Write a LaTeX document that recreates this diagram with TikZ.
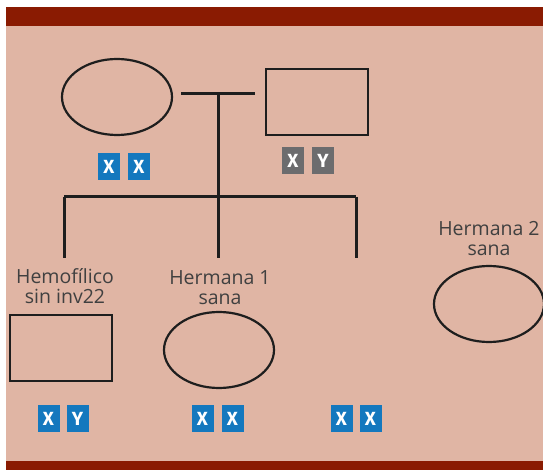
\documentclass[tikz,border=0pt]{standalone}
\usepackage{fontspec}
\setmainfont{Open Sans}
\newfontfamily\badgefont{Fira Sans}
\definecolor{band}{HTML}{8A1B02}
\definecolor{panel}{HTML}{E0B5A4}
\definecolor{chromblue}{HTML}{1478BE}
\definecolor{chromgray}{HTML}{6C6C6E}
\definecolor{ink}{HTML}{1E1E1E}
\usetikzlibrary{shapes.geometric}
\begin{document}
\begin{tikzpicture}[x=1pt,y=-1pt,
  line/.style={ink,line width=3pt},
  female/.style={draw=ink,line width=2.2pt,ellipse,minimum width=110pt,minimum height=76pt,inner sep=0pt},
  male/.style={draw=ink,line width=2.2pt,rectangle,minimum width=102pt,minimum height=66pt,inner sep=0pt},
  chrom/.style={fill=#1,text=white,minimum width=22pt,minimum height=27pt,inner sep=0pt,font=\badgefont\bfseries\fontsize{19}{19}\selectfont},
  lbl/.style={align=center,text=ink!85,font=\fontsize{19.5}{20}\selectfont,inner sep=0pt}]
\useasboundingbox (0,0) rectangle (543,470);
\fill[white] (0,0) rectangle (543,470);
\fill[panel] (6,26) rectangle (543,461);
\fill[band] (6,7) rectangle (543,26);
\fill[band] (6,461) rectangle (543,470);

% parents
\node[female] (mother) at (117,97) {};
\node[male] (father) at (317,102) {};
\coordinate (mleft) at (181,93.5);
\coordinate (mright) at (255,93.5);
\coordinate (mmid) at (218,93.5);
\coordinate (sib) at (218,197);
\draw[line] (mleft) -- (mright);
\draw[line] (mmid) -- (sib);

% sibship line and drops
\coordinate (sibl) at (64,197);
\coordinate (sibr) at (356,197);
\coordinate (dropl) at (64,258);
\coordinate (dropm) at (218,258);
\coordinate (dropr) at (356,258);
\draw[line] (sibl) -- (sibr);
\draw[line] (sibl) -- (dropl);
\draw[line] (sib) -- (dropm);
\draw[line] (sibr) -- (dropr);

% parent chromosomes
\node[chrom=chromblue] (mx1) at (109,166.5) {X};
\node[chrom=chromblue] (mx2) at (139,166.5) {X};
\node[chrom=chromgray] (fx) at (293,160.5) {X};
\node[chrom=chromgray] (fy) at (323,160.5) {Y};

% children (anchor base sits on the second line)
\node[lbl,anchor=base] (l1) at (65,303) {Hemofílico\\sin inv22};
\node[lbl,anchor=base] (l2) at (220,304) {Hermana 1\\sana};
\node[lbl,anchor=base] (l3) at (489,255) {Hermana 2\\sana};
\node[male] (son) at (61,348) {};
\node[female] (d1) at (219,350) {};
\node[female] (d2) at (489,304) {};

\node[chrom=chromblue] (sx) at (48.5,418.5) {X};
\node[chrom=chromblue] (sy) at (77.5,418.5) {Y};
\node[chrom=chromblue] (d1x1) at (202.5,418.5) {X};
\node[chrom=chromblue] (d1x2) at (232.5,418.5) {X};
\node[chrom=chromblue] (d2x1) at (341.5,418.5) {X};
\node[chrom=chromblue] (d2x2) at (370.5,418.5) {X};
\end{tikzpicture}
\end{document}
